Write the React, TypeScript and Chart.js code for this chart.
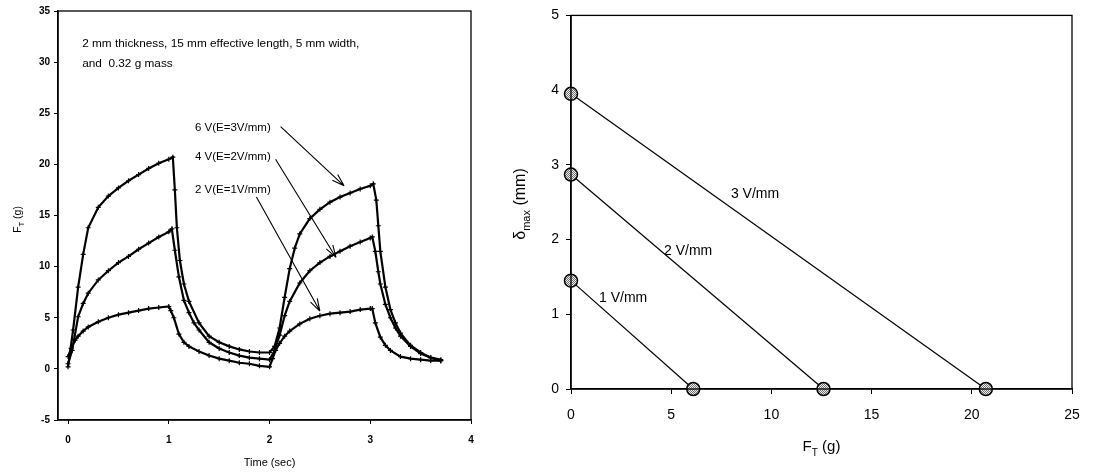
import React, { useEffect, useRef } from 'react';
import { Chart, registerables } from 'chart.js';
Chart.register(...registerables);

// ---------- Left chart data: F_T (g) vs Time (sec) ----------
const leftXTicks = [0, 1, 2, 3, 4];

const t6V = [0, 0.05, 0.1, 0.15, 0.2, 0.3, 0.4, 0.5, 0.6, 0.7, 0.8, 0.9, 1.0, 1.04, 1.06, 1.08, 1.11, 1.15, 1.2, 1.3, 1.4, 1.5, 1.6, 1.7, 1.8, 1.9, 2.0, 2.05, 2.1, 2.15, 2.2, 2.25, 2.3, 2.4, 2.5, 2.6, 2.7, 2.8, 2.9, 3.0, 3.03, 3.06, 3.08, 3.1, 3.15, 3.2, 3.25, 3.3, 3.4, 3.5, 3.6, 3.7];
const f6V = [0.2, 3.8, 8.0, 11.2, 13.8, 15.8, 16.9, 17.7, 18.4, 19.0, 19.6, 20.1, 20.5, 20.7, 17.5, 13.8, 10.6, 8.3, 6.6, 4.5, 3.2, 2.6, 2.2, 1.9, 1.7, 1.6, 1.6, 2.2, 4.0, 7.0, 9.8, 11.8, 13.2, 14.7, 15.6, 16.3, 16.8, 17.2, 17.6, 17.9, 18.1, 16.5, 14.0, 11.5, 8.0, 5.8, 4.5, 3.5, 2.3, 1.6, 1.1, 0.9];

const t4V = [0, 0.04, 0.1, 0.15, 0.2, 0.3, 0.4, 0.5, 0.6, 0.7, 0.8, 0.9, 1.0, 1.03, 1.06, 1.1, 1.15, 1.2, 1.25, 1.3, 1.4, 1.5, 1.6, 1.7, 1.8, 1.9, 2.0, 2.05, 2.1, 2.15, 2.2, 2.3, 2.4, 2.5, 2.6, 2.7, 2.8, 2.9, 3.0, 3.02, 3.05, 3.08, 3.1, 3.15, 3.2, 3.25, 3.3, 3.4, 3.5, 3.6, 3.7];
const f4V = [0.5, 1.8, 5.1, 6.4, 7.4, 8.7, 9.6, 10.4, 11.0, 11.7, 12.3, 12.9, 13.4, 13.7, 11.6, 9.0, 6.7, 5.5, 4.5, 3.8, 2.6, 2.0, 1.6, 1.3, 1.1, 1.0, 0.9, 1.8, 3.3, 5.2, 6.6, 8.4, 9.6, 10.4, 11.0, 11.5, 12.0, 12.4, 12.8, 12.9, 11.5, 9.5, 8.3, 6.3, 5.0, 4.0, 3.2, 2.2, 1.5, 1.1, 0.8];

const t2V = [0, 0.03, 0.07, 0.1, 0.15, 0.2, 0.3, 0.4, 0.5, 0.6, 0.7, 0.8, 0.9, 1.0, 1.02, 1.05, 1.1, 1.15, 1.2, 1.3, 1.4, 1.5, 1.6, 1.7, 1.8, 1.9, 2.0, 2.03, 2.06, 2.1, 2.15, 2.2, 2.3, 2.4, 2.5, 2.6, 2.7, 2.8, 2.9, 3.0, 3.02, 3.05, 3.1, 3.15, 3.2, 3.3, 3.4, 3.5, 3.6, 3.7];
const f2V = [1.2, 2.0, 2.8, 3.2, 3.7, 4.1, 4.6, 5.0, 5.3, 5.5, 5.7, 5.9, 6.0, 6.1, 5.7, 5.0, 3.4, 2.6, 2.2, 1.7, 1.3, 1.0, 0.8, 0.6, 0.5, 0.3, 0.2, 1.0, 1.8, 2.5, 3.2, 3.7, 4.4, 4.9, 5.2, 5.4, 5.5, 5.6, 5.8, 5.9, 5.9, 4.5, 3.1, 2.3, 1.8, 1.2, 1.0, 0.9, 0.8, 0.8];

const noteLines = ['2 mm thickness, 15 mm effective length, 5 mm width,', 'and  0.32 g mass'];
const noteX = 0.14;
const noteY = [31.8, 29.8];

const curveLabels = ['6 V(E=3V/mm)', '4 V(E=2V/mm)', '2 V(E=1V/mm)'];
const curveLabelX = 1.26;
const curveLabelY = [23.6, 20.7, 17.5];
const arrowStartX = [2.11, 2.06, 1.87];
const arrowStartY = [23.7, 20.5, 16.8];
const arrowEndX = [2.74, 2.66, 2.5];
const arrowEndY = [17.9, 10.9, 5.65];

// ---------- Right chart data: delta_max (mm) vs F_T (g) ----------
const fieldLabels = ['1 V/mm', '2 V/mm', '3 V/mm'];
const blockedForce = [6.1, 12.6, 20.7];
const freeDeflection = [1.45, 2.87, 3.95];
const fieldLabelX = [1.4, 4.64, 7.98];
const fieldLabelY = [1.21, 1.84, 2.61];

const FONT = '"Liberation Sans", Arial, Helvetica, sans-serif';

function zip(xs: number[], ys: number[]) {
  return xs.map((x, i) => ({ x, y: ys[i] }));
}

function drawArrow(ctx: CanvasRenderingContext2D, x1: number, y1: number, x2: number, y2: number) {
  ctx.beginPath();
  ctx.moveTo(x1, y1);
  ctx.lineTo(x2, y2);
  const a = Math.atan2(y2 - y1, x2 - x1);
  const L = 13;
  const w = 0.3;
  ctx.moveTo(x2, y2);
  ctx.lineTo(x2 - L * Math.cos(a - w), y2 - L * Math.sin(a - w));
  ctx.moveTo(x2, y2);
  ctx.lineTo(x2 - L * Math.cos(a + w), y2 - L * Math.sin(a + w));
  ctx.stroke();
}

// draws "main" + subscript + rest, horizontally centred at (cx, baseline)
function drawSubText(ctx: CanvasRenderingContext2D, main: string, sub: string, rest: string, cx: number, base: number, size: number, subSize: number, subDrop: number) {
  ctx.font = `${size}px ${FONT}`;
  const w1 = ctx.measureText(main).width;
  const w3 = ctx.measureText(rest).width;
  ctx.font = `${subSize}px ${FONT}`;
  const w2 = ctx.measureText(sub).width;
  let x = cx - (w1 + w2 + w3) / 2;
  ctx.textAlign = 'left';
  ctx.textBaseline = 'alphabetic';
  ctx.font = `${size}px ${FONT}`;
  ctx.fillText(main, x, base);
  x += w1;
  ctx.font = `${subSize}px ${FONT}`;
  ctx.fillText(sub, x, base + subDrop);
  x += w2;
  ctx.font = `${size}px ${FONT}`;
  ctx.fillText(rest, x, base);
}

const framePlugin = {
  id: 'frame',
  afterDraw(chart: any) {
    const { ctx, chartArea: a } = chart;
    ctx.save();
    ctx.strokeStyle = '#000';
    ctx.lineWidth = 1.3;
    ctx.strokeRect(a.left, a.top, a.right - a.left, a.bottom - a.top);
    ctx.restore();
  },
};

const leftAnnoPlugin = {
  id: 'leftAnno',
  afterDraw(chart: any) {
    const { ctx, scales } = chart;
    const x = scales.x, y = scales.y;
    ctx.save();
    ctx.fillStyle = '#000';
    ctx.strokeStyle = '#000';
    ctx.lineWidth = 1.1;
    ctx.textAlign = 'left';
    ctx.textBaseline = 'middle';
    ctx.font = `11.8px ${FONT}`;
    noteLines.forEach((s, i) => ctx.fillText(s, x.getPixelForValue(noteX), y.getPixelForValue(noteY[i])));
    ctx.font = `11.5px ${FONT}`;
    curveLabels.forEach((s, i) => ctx.fillText(s, x.getPixelForValue(curveLabelX), y.getPixelForValue(curveLabelY[i])));
    for (let i = 0; i < curveLabels.length; i++) {
      drawArrow(ctx, x.getPixelForValue(arrowStartX[i]), y.getPixelForValue(arrowStartY[i]), x.getPixelForValue(arrowEndX[i]), y.getPixelForValue(arrowEndY[i]));
    }
    // axis titles
    const a = chart.chartArea;
    ctx.textAlign = 'center';
    ctx.textBaseline = 'middle';
    ctx.font = `11px ${FONT}`;
    ctx.fillText('Time (sec)', (x.getPixelForValue(0) + x.getPixelForValue(4)) / 2, 463);
    ctx.save();
    ctx.translate(21, (a.top + a.bottom) / 2 + 4);
    ctx.rotate(-Math.PI / 2);
    drawSubText(ctx, 'F', 'T', ' (g)', 0, 0, 10.5, 7.5, 3);
    ctx.restore();
    ctx.restore();
  },
};

const rightAnnoPlugin = {
  id: 'rightAnno',
  afterDraw(chart: any) {
    const { ctx, scales } = chart;
    const x = scales.x, y = scales.y;
    ctx.save();
    ctx.fillStyle = '#000';
    ctx.font = `14px ${FONT}`;
    ctx.textAlign = 'left';
    ctx.textBaseline = 'middle';
    fieldLabels.forEach((s, i) => ctx.fillText(s, x.getPixelForValue(fieldLabelX[i]), y.getPixelForValue(fieldLabelY[i])));
    const a = chart.chartArea;
    drawSubText(ctx, 'F', 'T', ' (g)', (a.left + a.right) / 2, 451, 15, 10, 5);
    ctx.save();
    ctx.translate(35, 204);
    ctx.rotate(-Math.PI / 2);
    drawSubText(ctx, 'δ', 'max', ' (mm)', 0, 0, 16, 11, 5);
    ctx.restore();
    ctx.restore();
  },
};

export default function App() {
  const leftRef = useRef<HTMLCanvasElement>(null);
  const rightRef = useRef<HTMLCanvasElement>(null);

  useEffect(() => {
    const seriesStyle = {
      showLine: true,
      borderColor: '#000',
      backgroundColor: '#000',
      borderWidth: 2.2,
      pointStyle: 'cross',
      pointRadius: 2.5,
      pointBorderWidth: 1.2,
      pointBorderColor: '#000',
      tension: 0,
    };
    const leftTick = { color: '#000', font: { family: FONT, size: 10, weight: 'bold' } };
    const c1 = new Chart(leftRef.current!, {
      type: 'scatter',
      data: {
        datasets: [
          { label: '6 V', data: zip(t6V, f6V), ...seriesStyle },
          { label: '4 V', data: zip(t4V, f4V), ...seriesStyle },
          { label: '2 V', data: zip(t2V, f2V), ...seriesStyle },
        ],
      },
      options: {
        animation: false,
        responsive: true,
        maintainAspectRatio: false,
        layout: { padding: { top: 11, right: 19, left: 0, bottom: 0 } },
        plugins: { legend: { display: false }, tooltip: { enabled: false } },
        scales: {
          x: {
            type: 'linear',
            min: -0.1,
            max: 4,
            afterBuildTicks: (s: any) => { s.ticks = leftXTicks.map((v) => ({ value: v })); },
            afterFit: (s: any) => { s.height = 53; },
            grid: { drawOnChartArea: false, drawTicks: true, tickLength: 4, color: '#000' },
            border: { display: true, color: '#000', width: 1.5 },
            ticks: { ...leftTick, padding: 10, maxRotation: 0 },
          },
          y: {
            type: 'linear',
            min: -5,
            max: 35,
            afterFit: (s: any) => { s.width = 58; },
            grid: { drawOnChartArea: false, drawTicks: true, tickLength: 4, color: '#000' },
            border: { display: true, color: '#000', width: 1.5 },
            ticks: { ...leftTick, stepSize: 5, padding: 4 },
          },
        },
      } as any,
      plugins: [framePlugin, leftAnnoPlugin],
    });

    const pc = document.createElement('canvas');
    pc.width = 2; pc.height = 2;
    const pctx = pc.getContext('2d')!;
    pctx.fillStyle = '#f0f0f0'; pctx.fillRect(0, 0, 2, 2);
    pctx.fillStyle = '#707070'; pctx.fillRect(0, 0, 1, 1); pctx.fillRect(1, 1, 1, 1);
    const pattern = rightRef.current!.getContext('2d')!.createPattern(pc, 'repeat');

    const rightDatasets = fieldLabels.map((lab, i) => ({
      label: lab,
      data: [{ x: 0, y: freeDeflection[i] }, { x: blockedForce[i], y: 0 }],
      showLine: true,
      borderColor: '#000',
      borderWidth: 1.2,
      pointRadius: 6.5,
      pointBorderWidth: 1.5,
      pointBorderColor: '#000',
      pointBackgroundColor: pattern,
      clip: false,
    }));
    const rightTick = { color: '#000', font: { family: FONT, size: 14 } };
    const c2 = new Chart(rightRef.current!, {
      type: 'scatter',
      data: { datasets: rightDatasets },
      options: {
        animation: false,
        responsive: true,
        maintainAspectRatio: false,
        layout: { padding: { top: 12, right: 47, left: 0, bottom: 0 } },
        plugins: { legend: { display: false }, tooltip: { enabled: false } },
        scales: {
          x: {
            type: 'linear',
            min: 0,
            max: 25,
            afterFit: (s: any) => { s.height = 84; },
            grid: { drawOnChartArea: false, drawTicks: true, tickLength: 5, color: '#000' },
            border: { display: true, color: '#000', width: 1.5 },
            ticks: { ...rightTick, stepSize: 5, padding: 13, maxRotation: 0 },
          },
          y: {
            type: 'linear',
            min: 0,
            max: 5,
            afterFit: (s: any) => { s.width = 81; },
            grid: { drawOnChartArea: false, drawTicks: true, tickLength: 5, color: '#000' },
            border: { display: true, color: '#000', width: 1.5 },
            ticks: { ...rightTick, stepSize: 1, padding: 7 },
          },
        },
      } as any,
      plugins: [framePlugin, rightAnnoPlugin],
    });

    return () => { c1.destroy(); c2.destroy(); };
  }, []);

  return (
    <div style={{ position: 'absolute', left: 0, top: 0, width: 1119, height: 473, background: '#fff' }}>
      <div style={{ position: 'absolute', left: 0, top: 0, width: 490, height: 473 }}>
        <canvas ref={leftRef} />
      </div>
      <div style={{ position: 'absolute', left: 490, top: 0, width: 629, height: 473 }}>
        <canvas ref={rightRef} />
      </div>
    </div>
  );
}
